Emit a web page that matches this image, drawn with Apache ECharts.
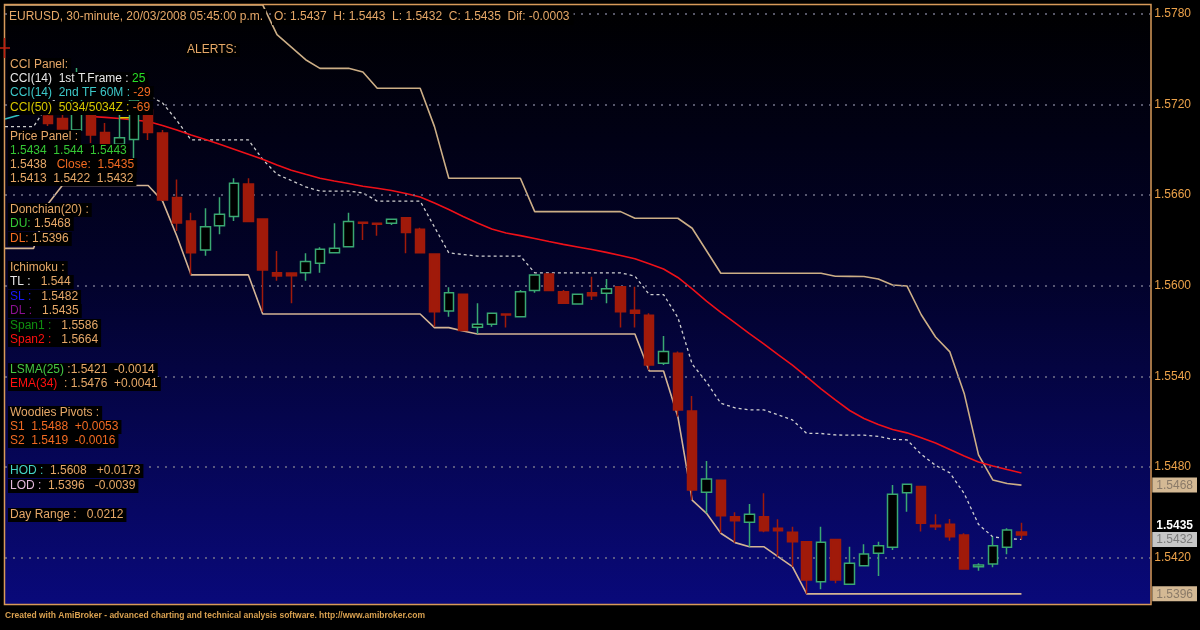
<!DOCTYPE html>
<html><head><meta charset="utf-8">
<script src="https://cdn.jsdelivr.net/npm/echarts@6/dist/echarts.min.js"></script>
<style>html,body{margin:0;padding:0;background:#000;}#c{width:1200px;height:630px;}</style>
</head><body><div id="c"></div><script>
// ---------- DATA ----------
const times = ['19/03 06:15','19/03 06:45','19/03 07:15','19/03 07:45','19/03 08:15','19/03 08:45','19/03 09:15','19/03 09:45','19/03 10:15','19/03 10:45','19/03 11:15','19/03 11:45','19/03 12:15','19/03 12:45','19/03 13:15','19/03 13:45','19/03 14:15','19/03 14:45','19/03 15:15','19/03 15:45','19/03 16:15','19/03 16:45','19/03 17:15','19/03 17:45','19/03 18:15','19/03 18:45','19/03 19:15','19/03 19:45','19/03 20:15','19/03 20:45','19/03 21:15','19/03 21:45','19/03 22:15','19/03 22:45','19/03 23:15','19/03 23:45','20/03 00:15','20/03 00:45','20/03 01:15','20/03 01:45','20/03 02:15','20/03 02:45','20/03 03:15','20/03 03:45','20/03 04:15','20/03 04:45','20/03 05:15','20/03 05:45','20/03 06:15','20/03 06:45','20/03 07:15','20/03 07:45','20/03 08:15','20/03 08:45','20/03 09:15','20/03 09:45','20/03 10:15','20/03 10:45','20/03 11:15','20/03 11:45','20/03 12:15','20/03 12:45','20/03 13:15','20/03 13:45','20/03 14:15','20/03 14:45','20/03 15:15','20/03 15:45','20/03 16:15','20/03 16:45','20/03 17:15','20/03 17:45'];

// candles start at the 4th bar (first three hidden)
const candleOpen = [1.57125,1.57108,1.57032,1.57138,1.57015,1.56937,1.56969,1.57164,1.57012,1.56585,
1.56429,1.56237,1.56398,1.56458,1.56674,1.56442,1.56087,1.56085,1.56087,1.56149,
1.56219,1.56259,1.56421,1.56414,1.56414,1.56451,1.56374,1.56211,1.55833,1.55944,
1.55725,1.55745,1.55813,1.55795,1.55968,1.56078,1.55961,1.55879,1.55954,1.5595,
1.55994,1.55838,1.55805,1.55487,1.55553,1.55171,1.54632,1.54712,1.54471,1.54434,
1.54471,1.54394,1.54368,1.54305,1.5404,1.5432,1.54023,1.54146,1.54228,1.54268,
1.5463,1.5467,1.54414,1.54421,1.5435,1.5414,1.54158,1.54268,1.5437];
const candleClose = [1.57075,1.57038,1.57363,1.56999,1.56936,1.56981,1.5723,1.57015,1.56568,1.56416,
1.56219,1.56391,1.56474,1.56679,1.56425,1.56105,1.56065,1.56067,1.5616,1.56242,
1.56248,1.56425,1.56414,1.56407,1.5644,1.56352,1.56219,1.55828,1.55954,1.55703,
1.55745,1.55818,1.55807,1.55961,1.56072,1.55968,1.55884,1.55944,1.55934,1.55981,
1.55828,1.55818,1.55475,1.55564,1.55177,1.54648,1.54721,1.54477,1.54444,1.54487,
1.54378,1.54378,1.54305,1.54052,1.54301,1.54052,1.54162,1.54224,1.54279,1.54619,
1.54685,1.54427,1.54405,1.54338,1.54125,1.54151,1.54279,1.54383,1.5435];
const candleLow = [1.57058,1.57038,1.56979,1.56946,1.56932,1.56936,1.56813,1.56966,1.56562,1.56363,
1.56072,1.56199,1.56341,1.56429,1.56423,1.55828,1.56034,1.55884,1.56034,1.56087,
1.56217,1.56257,1.56303,1.56332,1.56403,1.56215,1.56215,1.55729,1.55795,1.55701,
1.55681,1.55729,1.55723,1.55793,1.55954,1.55966,1.55882,1.55879,1.55906,1.55884,
1.55723,1.55723,1.55442,1.55475,1.55133,1.54581,1.54493,1.54361,1.54299,1.54272,
1.54368,1.54206,1.5414,1.5396,1.5399,1.5403,1.54021,1.54144,1.54078,1.5425,
1.54504,1.54372,1.54383,1.54312,1.54123,1.54113,1.54136,1.54222,1.5432];
const candleHigh = [1.57138,1.57131,1.57442,1.57151,1.57078,1.57131,1.57264,1.57177,1.57032,1.56704,
1.56484,1.56513,1.56586,1.56712,1.56712,1.56446,1.5623,1.56085,1.56215,1.56255,
1.56414,1.56484,1.56423,1.56416,1.56442,1.56454,1.56385,1.56211,1.5599,1.55946,
1.55884,1.5582,1.55813,1.55972,1.56072,1.56078,1.55972,1.55946,1.5606,1.56045,
1.55998,1.55994,1.55818,1.55668,1.55564,1.5527,1.5484,1.54714,1.545,1.54555,
1.54626,1.54454,1.54405,1.54307,1.54405,1.54322,1.54272,1.54288,1.54305,1.54681,
1.54687,1.54672,1.54487,1.54456,1.54361,1.54162,1.54338,1.54394,1.5443];

const donchianUpper = [1.5786,1.5786,1.5786,1.5786,1.5786,1.5786,1.5786,1.5786,1.5786,1.5786,
1.5786,1.5786,1.5786,1.5786,1.5786,1.5786,1.5786,1.5786,1.5786,1.57663,
1.5758,1.57497,1.5744,1.5744,1.5744,1.57416,1.57308,1.57308,1.57308,1.57308,
1.57054,1.56712,1.56712,1.56712,1.56712,1.56712,1.56712,1.56491,1.56491,1.56491,
1.56491,1.56491,1.56491,1.56491,1.56447,1.56447,1.56447,1.56447,1.56381,1.56232,
1.56083,1.56083,1.56083,1.56083,1.56083,1.56083,1.56083,1.56083,1.56063,1.56062,
1.56061,1.56045,1.56005,1.55999,1.55808,1.55661,1.55562,1.55287,1.5488,1.54714,
1.54691,1.5468];
const donchianLower = [1.56248,1.56248,1.56248,1.56542,1.56664,1.56664,1.56664,1.56664,1.56664,1.56664,
1.56664,1.56562,1.5633,1.56072,1.56072,1.56072,1.56072,1.56072,1.55813,1.55813,
1.55813,1.55813,1.55813,1.55813,1.55813,1.55813,1.55813,1.55813,1.55813,1.55813,
1.55723,1.55723,1.55701,1.55681,1.55681,1.55681,1.55681,1.55681,1.55681,1.55681,
1.55681,1.55681,1.55681,1.55681,1.55681,1.55436,1.55436,1.55133,1.54581,1.54493,
1.54361,1.54299,1.54272,1.54272,1.54206,1.5414,1.5396,1.5396,1.5396,1.5396,
1.5396,1.5396,1.5396,1.5396,1.5396,1.5396,1.5396,1.5396,1.5396,1.5396,
1.5396,1.5396];
const donchianMid = [1.57054,1.57054,1.57054,1.57201,1.57262,1.57262,1.57262,1.57262,1.57262,1.57262,
1.57262,1.57211,1.57095,1.56966,1.56966,1.56966,1.56966,1.56966,1.56837,1.56738,
1.56697,1.56655,1.56627,1.56627,1.56627,1.56615,1.56561,1.56561,1.56561,1.56561,
1.56389,1.56218,1.56207,1.56197,1.56197,1.56197,1.56197,1.56086,1.56086,1.56086,
1.56086,1.56086,1.56086,1.56086,1.56064,1.55942,1.55942,1.5579,1.55481,1.55363,
1.55222,1.55191,1.55178,1.55178,1.55145,1.55112,1.55022,1.55022,1.55012,1.55011,
1.55011,1.55003,1.54983,1.5498,1.54884,1.54811,1.54761,1.54624,1.5442,1.54337,
1.54326,1.5432];
const ema34 = ['-','-','-','-','-','-',1.57121,1.57115,1.57108,1.57098,
1.57088,1.57062,1.57032,1.56999,1.56969,1.56937,1.56904,1.56871,1.56838,1.568,
1.56765,1.56738,1.56712,1.56694,1.56677,1.56659,1.56646,1.56631,1.56611,1.56588,
1.56548,1.56505,1.56459,1.56416,1.56376,1.5635,1.56332,1.56313,1.56293,1.56274,
1.56257,1.5624,1.56221,1.562,1.56179,1.56146,1.56111,1.56055,1.55979,1.55899,
1.55824,1.55754,1.55683,1.55615,1.55544,1.55474,1.55396,1.55318,1.55244,1.55174,
1.55121,1.55081,1.55048,1.55026,1.54994,1.54959,1.54916,1.54873,1.54833,1.54807,
1.54783,1.5476];
const cyanFragment = [1.57105, 1.57131];   // bars 0-1
const yellowFragment = [1.57113, 1.57113]; // bars 8-9

const tickValues = [1.5420, 1.5480, 1.5540, 1.5600, 1.5660, 1.5720, 1.5780];
const levelValues = [1.5468, 1.5435, 1.5432, 1.5396];

const headerLeft = 'EURUSD, 30-minute, 20/03/2008 05:45:00 p.m.';
const headerRight = 'O: 1.5437  H: 1.5443  L: 1.5432  C: 1.5435  Dif: -0.0003';
const alertsText = 'ALERTS:';
const footerText = 'Created with AmiBroker - advanced charting and technical analysis software. http://www.amibroker.com';
const panelText = [
 '{t|CCI Panel:}',
 '{w|CCI(14)  1st T.Frame :} {G|25}',
 '{c|CCI(14)  2nd TF 60M :} {o|-29}',
 '{y|CCI(50)  5034/5034Z :} {o|-69}',
 '{t|Price Panel :}',
 '{g|1.5434  1.544  1.5443}',
 '{t|1.5438}   {o|Close:  1.5435}',
 '{t|1.5413  1.5422  1.5432}',
 '{t|Donchian(20) :}',
 '{g|DU:} {t|1.5468}',
 '{o|DL:} {t|1.5396}',
 '{t|Ichimoku :}',
 '{w|TL :}   {t|1.544}',
 '{b|SL :}   {t|1.5482}',
 '{p|DL :}   {t|1.5435}',
 '{dg|Span1 :}   {t|1.5586}',
 '{r|Span2 :}   {t|1.5664}',
 '{lg|LSMA(25)} {t|:1.5421  -0.0014}',
 '{r|EMA(34)} {t| : 1.5476  +0.0041}',
 '{t|Woodies Pivots :}',
 '{o|S1  1.5488  +0.0053}',
 '{o|S2  1.5419  -0.0016}',
 '{hc|HOD :} {t| 1.5608   +0.0173}',
 '{pk|LOD :} {t| 1.5396   -0.0039}',
 '{t|Day Range :   0.0212}'
];

// ---------- LAYOUT / STYLE ----------
const panelY = [65,79,93,108,137,151,165,179,210,224,239,268,282,297,311,326,340,370,384,413,427,441,471,486,515];
const K0 = 3, PAD = 9;
const FONT = '"Liberation Sans", Arial, sans-serif';
const TAN = '#e6a868', ORANGE = '#f26a22';
const rich = {
  t:{fill:TAN}, w:{fill:'#e6e6e6'}, G:{fill:'#28e028'}, c:{fill:'#3cc8c8'}, o:{fill:ORANGE},
  y:{fill:'#d8c800'}, g:{fill:'#34c834'}, b:{fill:'#1818ff'}, p:{fill:'#8a1090'},
  dg:{fill:'#109010'}, r:{fill:'#ff1010'}, lg:{fill:'#44c844'}, hc:{fill:'#44d4c4'}, pk:{fill:'#e4b8dc'}
};
Object.values(rich).forEach(s => { s.font = '12px ' + FONT; });

const axisData = times.concat(Array.from({length: PAD}, (_, i) => 'pad' + i));
const pad = (arr, start) => { const a = new Array(times.length).fill('-'); arr.forEach((v,i)=>{a[start+i]=v;}); return a; };
const candleData = Array.from({length: K0}, () => ['-','-','-','-'])
  .concat(candleOpen.map((o,i) => [o, candleClose[i], candleLow[i], candleHigh[i]]));

// label styles for the right-hand level tags (same order as levelValues)
const levelRich = {
  l0:{backgroundColor:'#d4b994', color:'#8a7a68', padding:[2,4,1,4], fontSize:12, fontFamily:FONT},
  l1:{color:'#ffffff', fontWeight:'bold', padding:[0,4,19,4], fontSize:12, fontFamily:FONT},
  l2:{backgroundColor:'#c6c6c6', color:'#7c7c7c', padding:[2,4,1,4], fontSize:12, fontFamily:FONT},
  l3:{backgroundColor:'#d4b994', color:'#8a7a68', padding:[2,4,1,4], fontSize:12, fontFamily:FONT}
};

const GX = 5, GY = 4, GW = 1145.6, GH = 601;
const YMIN = 1.53886, YMAX = 1.57866;

const graphics = [
  {type:'rect', z:-100, silent:true, shape:{x:GX, y:GY, width:GW, height:GH},
   style:{fill:new echarts.graphic.LinearGradient(0,0,0,1,[{offset:0,color:'#000000'},{offset:0.45,color:'#02022a'},{offset:1,color:'#09097a'}])}},
  {type:'rect', z:200, silent:true, shape:{x:4.5, y:4.5, width:1146.5, height:600}, style:{fill:null, stroke:'#d89a5a', lineWidth:1.5}},
  {type:'line', z:201, silent:true, shape:{x1:0, y1:48, x2:10, y2:48}, style:{stroke:'#c02010', lineWidth:1.5}},
  {type:'line', z:201, silent:true, shape:{x1:4.5, y1:38, x2:4.5, y2:58}, style:{stroke:'#c02010', lineWidth:1.5}},
  {type:'text', z:150, x:8, y:17, style:{text:headerLeft, fill:TAN, font:'12px '+FONT, verticalAlign:'middle', backgroundColor:'#000000', padding:[2,3,2,1]}},
  {type:'text', z:150, x:272, y:17, style:{text:headerRight, fill:TAN, font:'12px '+FONT, verticalAlign:'middle', backgroundColor:'#000000', padding:[2,4,2,2]}},
  {type:'text', z:150, x:186, y:50, style:{text:alertsText, fill:TAN, font:'12px '+FONT, verticalAlign:'middle', backgroundColor:'#000000', padding:[1,3,1,1]}},
  {type:'text', z:150, x:5, y:616, style:{text:footerText, fill:'#d8a050', font:'bold 8.5px '+FONT, verticalAlign:'middle'}}
];
panelText.forEach((txt, j) => {
  graphics.push({type:'text', z:150, x:8, y:panelY[j],
    style:{text:txt, rich:rich, font:'12px '+FONT, fill:TAN, verticalAlign:'middle',
           backgroundColor:'#000000', padding:[1,3,1,2]}});
});

const chart = echarts.init(document.getElementById('c'), null, {renderer:'canvas'});
chart.setOption({
  animation:false,
  backgroundColor:'#000000',
  grid:{left:GX, top:GY, width:GW, height:GH, containLabel:false, show:false},
  xAxis:{type:'category', data:axisData, boundaryGap:false,
    axisLine:{show:false}, axisTick:{show:false}, axisLabel:{show:false}, splitLine:{show:false}},
  yAxis:[
    {type:'value', position:'right', min:YMIN, max:YMAX,
      axisLine:{show:false}, axisTick:{show:false}, splitLine:{show:false},
      axisLabel:{customValues:tickValues, color:'#eca24a', fontSize:12, fontFamily:FONT, margin:4,
        formatter:v => v.toFixed(4)}},
    {type:'value', position:'right', min:YMIN, max:YMAX,
      axisLine:{show:false}, axisTick:{show:false}, splitLine:{show:false},
      axisLabel:{customValues:levelValues, margin:2, rich:levelRich,
        formatter:v => { let j = 0, best = 1; levelValues.forEach((lv,k)=>{ const d=Math.abs(lv-v); if(d<best){best=d;j=k;} });
          return '{l' + j + '|' + levelValues[j].toFixed(4) + '}'; }}}
  ],
  graphic:graphics,
  series:[
    {name:'Donchian lower', type:'line', data:donchianLower, z:2, showSymbol:false, symbol:'none',
      lineStyle:{color:'#d4b494', width:1.6},
      markLine:{silent:true, symbol:'none', label:{show:false}, animation:false, precision:4,
        lineStyle:{color:'#74748a', type:[2,6], width:1.5},
        data:tickValues.map(v => ({yAxis:v}))}},
    {name:'Donchian upper', type:'line', data:donchianUpper, z:2, showSymbol:false, symbol:'none',
      lineStyle:{color:'#ccae86', width:1.6}},
    {name:'Donchian mid', type:'line', data:donchianMid, z:2, showSymbol:false, symbol:'none',
      lineStyle:{color:'#cfcfcf', width:1.3, type:[3,3]}},
    {name:'EMA(34)', type:'line', data:ema34, z:2, showSymbol:false, symbol:'none',
      lineStyle:{color:'#ee1018', width:1.6}},
    {name:'cyan', type:'line', data:pad(cyanFragment,0), z:2, showSymbol:false, symbol:'none',
      lineStyle:{color:'#30c0c0', width:1.6}},
    {name:'yellow', type:'line', data:pad(yellowFragment,8), z:2, showSymbol:false, symbol:'none',
      lineStyle:{color:'#e0d000', width:1.6}},
    {name:'EURUSD', type:'candlestick', data:candleData, z:5, barWidth:10,
      itemStyle:{color:'#000000', borderColor:'#3aa872', color0:'#a01a0a', borderColor0:'#a01a0a', borderWidth:1.5}}
  ]
});
</script></body></html>
